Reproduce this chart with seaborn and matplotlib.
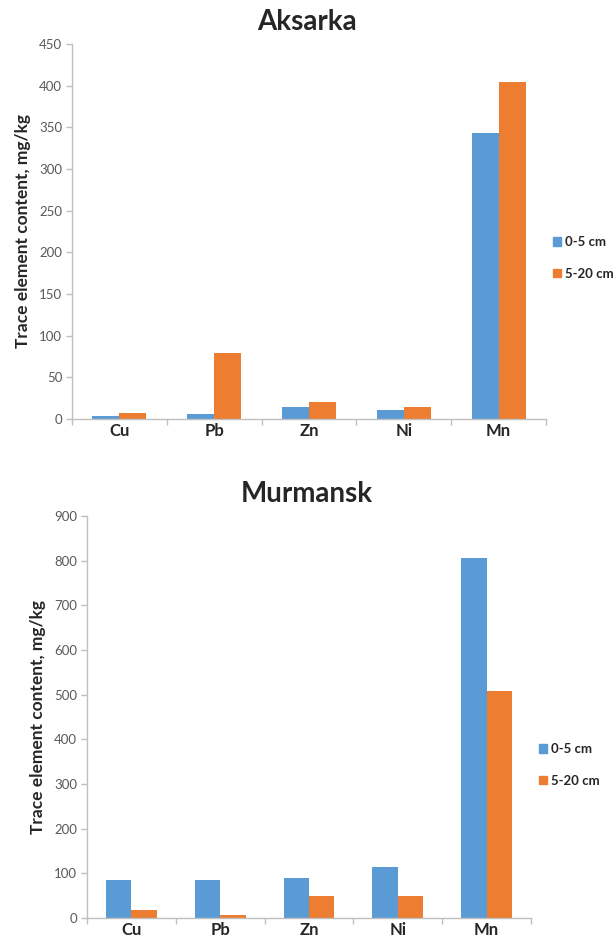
import numpy as np
import pandas as pd
import matplotlib.pyplot as plt
import seaborn as sns
from matplotlib.ticker import FixedLocator, NullFormatter

elements = ["Cu", "Pb", "Zn", "Ni", "Mn"]
depths = ["0-5 cm", "5-20 cm"]

# values, mg/kg
aksarka_0_5 = [4, 6.5, 14, 10.5, 343]
aksarka_5_20 = [7.5, 79, 21, 14, 405]
murmansk_0_5 = [85, 85, 90, 114, 806]
murmansk_5_20 = [19, 7, 50, 49, 509]

blue = "#5B9BD5"
orange = "#ED7D31"
grid_grey = "#BFBFBF"
tick_grey = "#595959"

sns.set_style("white")
plt.rcParams["font.family"] = ["Lato", "DejaVu Sans"]


def make_df(a, b):
    return pd.DataFrame({
        "element": elements * 2,
        "depth": [depths[0]] * 5 + [depths[1]] * 5,
        "value": list(a) + list(b),
    })


fig = plt.figure(figsize=(6.15, 9.41), dpi=100)
W, H = 615, 941
# axes boxes in pixels: left, top, right, bottom
boxes = [(72, 44, 546, 419), (87, 516, 531, 918)]
panels = [
    ("Aksarka", make_df(aksarka_0_5, aksarka_5_20), 450, 50, (544, 258)),
    ("Murmansk", make_df(murmansk_0_5, murmansk_5_20), 900, 100, (530, 765)),
]

for (l, t, r, b), (title, df, ymax, step, leg_xy) in zip(boxes, panels):
    ax = fig.add_axes([l / W, 1 - b / H, (r - l) / W, (b - t) / H])
    sns.barplot(data=df, x="element", y="value", hue="depth",
                palette=[blue, orange], width=0.57, ax=ax, linewidth=0,
                saturation=1, errorbar=None, legend=False)
    ax.set_ylim(0, ymax)
    ax.set_xlim(-0.5, 4.5)
    ax.set_yticks(np.arange(0, ymax + 1, step))
    ax.tick_params(axis="y", length=4, color=grid_grey, labelsize=9.5,
                   labelcolor=tick_grey, left=True, width=1, pad=3)
    ax.tick_params(axis="x", which="major", length=0, labelsize=12, pad=3)
    for lab in ax.get_xticklabels():
        lab.set_fontweight("bold")
    ax.xaxis.set_minor_locator(FixedLocator(np.arange(-0.5, 5, 1)))
    ax.xaxis.set_minor_formatter(NullFormatter())
    ax.tick_params(axis="x", which="minor", length=4, color=grid_grey,
                   bottom=True, width=1)
    for side in ["top", "right"]:
        ax.spines[side].set_visible(False)
    for side in ["left", "bottom"]:
        ax.spines[side].set_color(grid_grey)
        ax.spines[side].set_linewidth(1)
    ax.set_xlabel("")
    ax.set_ylabel("Trace element content, mg/kg", fontsize=12.5,
                  fontweight="bold", labelpad=6)
    fig.text(307 / W, 1 - (t - 22) / H, title, ha="center", va="center",
             fontsize=20, fontweight="bold")

    handles = [plt.Rectangle((0, 0), 1, 1, color=c) for c in [blue, orange]]
    fig.legend(handles, depths, loc="center left",
               bbox_to_anchor=(leg_xy[0] / W, 1 - leg_xy[1] / H),
               frameon=False, handlelength=0.6, handleheight=0.6,
               handletextpad=0.3, labelspacing=1.5, borderpad=0.2,
               prop={"weight": "bold", "size": 9.5})

fig.savefig("out.png", dpi=100)
